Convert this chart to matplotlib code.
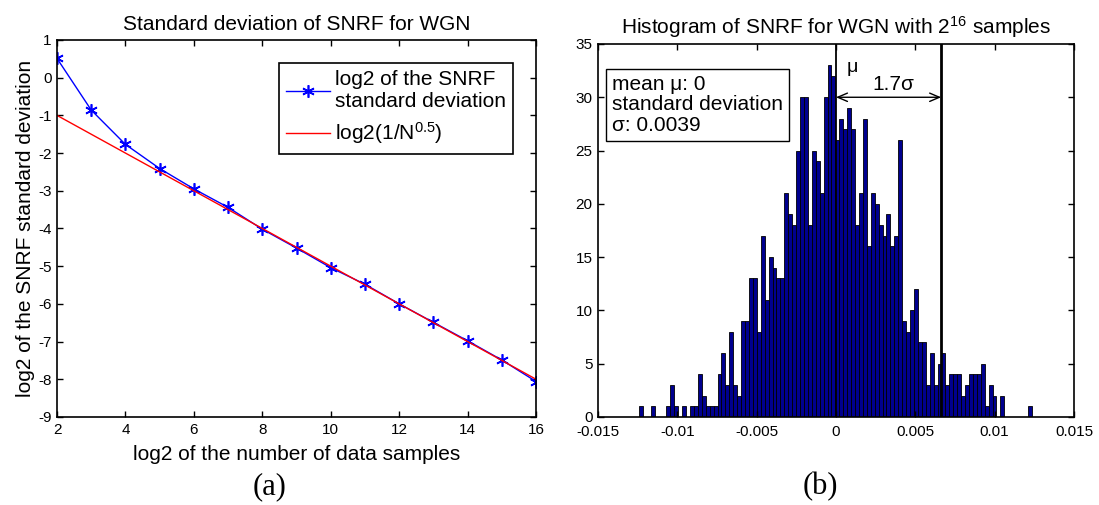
import numpy as np
import matplotlib
matplotlib.use('Agg')
from matplotlib import pyplot as plt

plt.rcParams['font.family'] = ['Liberation Sans', 'DejaVu Sans']
plt.rcParams['mathtext.default'] = 'regular'
plt.rcParams['axes.unicode_minus'] = False

# (a) log2 of the SNRF standard deviation vs log2 of the number of samples
log2_n = [2, 3, 4, 5, 6, 7, 8, 9, 10, 11, 12, 13, 14, 15, 16]
log2_std = [0.51, -0.86, -1.77, -2.41, -2.95, -3.44, -4.02, -4.52, -5.04,
            -5.48, -6.0, -6.49, -6.98, -7.49, -8.06]

# (b) histogram of SNRF for WGN, 100 bins between the sample extremes
snrf_min = -0.01229
snrf_max = 0.01222
counts = [1, 0, 0, 1, 0, 0, 0, 1, 3, 1,
          0, 1, 0, 1, 1, 4, 2, 1, 1, 1,
          4, 6, 3, 8, 3, 2, 9, 9, 13, 13,
          8, 17, 11, 15, 14, 13, 13, 21, 19, 18,
          25, 30, 30, 18, 25, 24, 21, 30, 33, 32,
          26, 28, 27, 29, 27, 18, 21, 28, 16, 21,
          20, 18, 17, 19, 16, 17, 26, 9, 8, 10,
          12, 7, 7, 3, 6, 3, 5, 6, 3, 4,
          4, 4, 2, 3, 4, 4, 4, 5, 1, 3,
          2, 0, 2, 0, 0, 0, 0, 0, 0, 1]
mu = 0.0
sigma = 0.0039
k_sigma = 1.7

fig = plt.figure(figsize=(10.99, 5.05), dpi=100)
ax1 = fig.add_axes([0.0519, 0.1743, 0.4359, 0.7465])
ax2 = fig.add_axes([0.5441, 0.1743, 0.4331, 0.7386])

# --- left panel ---
n = np.array(log2_n)
ax1.plot(n, log2_std, '-', marker=(6, 2, 0), color='b', lw=1, ms=9, mew=1.2,
         label='log2 of the SNRF\nstandard deviation')
ax1.plot(n, np.log2(1 / np.sqrt(2.0 ** n)), '-', color='r', lw=1,
         label='log2(1/N$^{0.5}$)')
ax1.set_xlim(2, 16)
ax1.set_ylim(-9, 1)
ax1.set_xticks(range(2, 17, 2))
ax1.set_yticks(range(-9, 2))
ax1.set_title('Standard deviation of SNRF for WGN', fontsize=15, pad=7)
ax1.set_xlabel('log2 of the number of data samples', fontsize=15, labelpad=6)
ax1.set_ylabel('log2 of the SNRF standard deviation', fontsize=15, labelpad=2)
leg = ax1.legend(loc='upper right', fontsize=15, handlelength=2.1,
                 handletextpad=0.25, fancybox=False, edgecolor='k',
                 framealpha=1, borderaxespad=1.1, labelspacing=0.45,
                 borderpad=0.35)
leg.get_frame().set_linewidth(1.2)

# --- right panel ---
width = (snrf_max - snrf_min) / (len(counts) - 1)
centers = np.linspace(snrf_min, snrf_max, len(counts))
ax2.bar(centers, counts, width=width, color='#00008f', edgecolor='k',
        linewidth=0.6)
ax2.set_xlim(-0.015, 0.015)
ax2.set_ylim(0, 35)
ax2.set_xticks([-0.015, -0.01, -0.005, 0, 0.005, 0.01, 0.015])
ax2.set_xticklabels(['-0.015', '-0.01', '-0.005', '0', '0.005', '0.01', '0.015'])
ax2.set_yticks(range(0, 36, 5))
ax2.set_title('Histogram of SNRF for WGN with $2^{16}$ samples',
              fontsize=15, pad=7)

x_k = mu + k_sigma * sigma
ax2.plot([mu, mu], [0, 35], color='k', lw=1.3)
ax2.plot([x_k, x_k], [0, 35], color='k', lw=2)
ax2.annotate('', xy=(mu, 30), xytext=(x_k, 30),
             arrowprops=dict(arrowstyle='<->,head_length=0.7,head_width=0.3',
                             color='k', lw=1, shrinkA=0, shrinkB=0))
ax2.text(0.0036, 30.3, '1.7\u03c3', fontsize=15, ha='center', va='bottom')
ax2.text(mu + 0.0007, 32.0, '\u03bc', fontsize=14, ha='left', va='bottom')
ax2.text(-0.0141, 32.1,
         'mean \u03bc: 0\nstandard deviation\n\u03c3: 0.0039',
         fontsize=15, ha='left', va='top', linespacing=1.1,
         bbox=dict(boxstyle='square,pad=0.3', fc='w', ec='k', lw=1))

for ax in (ax1, ax2):
    ax.tick_params(direction='in', top=True, right=True, labelsize=11,
                   length=4, width=1, pad=4)
    for s in ax.spines.values():
        s.set_linewidth(1.2)
ax2.tick_params(axis='x', pad=6)

fig.text(0.2457, 0.036, '(a)', family='Liberation Serif', fontsize=22,
         ha='center', va='center')
fig.text(0.7461, 0.036, '(b)', family='Liberation Serif', fontsize=22,
         ha='center', va='center')

fig.savefig('out.png', dpi=100)
